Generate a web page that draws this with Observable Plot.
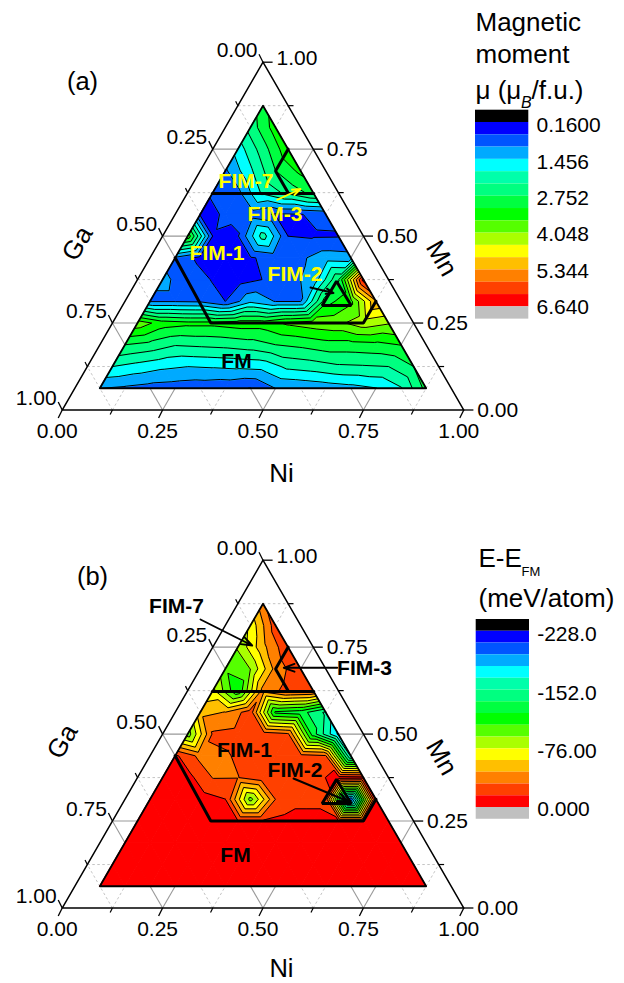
<!DOCTYPE html>
<html><head><meta charset="utf-8">
<style>html,body{margin:0;padding:0;background:#fff}svg{display:block}</style>
<script src="https://cdn.jsdelivr.net/npm/d3@7"></script>
<script src="https://cdn.jsdelivr.net/npm/@observablehq/plot@0.6"></script>
</head><body><div id="chart"></div>
<script>
// Values on the 1/16 composition grid: one list per Mn level (k/16), ordered by rising Ni.
const muMn01=[1.03,.95,.85,.8,.75,.7,.58,1.03,1.1,1.2,1.3,1.44,1.85,2.9];
const muMn02=[1.89,1.72,1.55,1.46,1.5,1.55,1.6,2.0,2.1,2.25,2.28,2.32,2.75];
const muMn03=[2.75,2.6,2.35,2.4,2.45,2.55,2.75,2.85,3.0,3.0,3.05,3.2];
const muMn04=[3.9,3.4,3.3,3.3,3.4,3.4,3.7,3.85,3.95,4.3,4.1];
const muMn05=[.99,.99,.96,.59,1.35,1.0,1.0,3.0,3.5,5.3];
const muMn06=[1.06,.95,.55,.4,.6,.9,1.15,2.7,6.4];
const muMn07=[.95,.45,.3,.55,.75,.95,1.25,1.2];
const muMn08=[3.5,.58,.56,2.1,.59,.55,.56];
const muMn09=[.5,.62,.8,.55,.58,.7];
const muMn10=[.62,.9,2.0,2.45,2.9];
const muMn11=[.95,1.8,2.75,3.3];
const muMn12=[1.65,2.55,3.5];
const muMn13=[2.5,3.4];
const muMn14=[3.0];
const muRows=[muMn01,muMn02,muMn03,muMn04,muMn05,muMn06,muMn07,muMn08,muMn09,muMn10,muMn11,muMn12,muMn13,muMn14];

const eMn01=[-2,-3,-4,-3,-2,-3,-4,-3,-2,-3,-4,-3,-2,-2];
const eMn02=[-3,-3,-3,-4,-3,-3,-3,-3,-4,-3,-3,-3,-2];
const eMn03=[-3,-4,-3,-4,-5,-5,-4,-4,-4,-4,-4,-3];
const eMn04=[-3,-3,-4,-6,-14.5,-14.5,-9,-9,-14,-14,-5];
const eMn05=[-3,-5,-8,-15,-97,-30,-20,-20,-210,-10];
const eMn06=[-8,-10,-31,-30.8,-20,-22,-22,-8,-10];
const eMn07=[-12,-35,-32,-25,-22,-25,-29,-170];
const eMn08=[-100,-28,-25,-22,-28,-130,-185];
const eMn09=[-50,-45,-22,-125,-130,-155];
const eMn10=[-72,-120,-40,-25,-28];
const eMn11=[-103,-91,-40,-18];
const eMn12=[-90,-50,-18];
const eMn13=[-72,-22];
const eMn14=[-35];
const eRows=[eMn01,eMn02,eMn03,eMn04,eMn05,eMn06,eMn07,eMn08,eMn09,eMn10,eMn11,eMn12,eMn13,eMn14];

const bandColors=["#000000","#0000ff","#0055ff","#00aaff","#00ffff","#00ffaa","#00ff80","#00ff40","#00ff00","#55ff00","#aaff00","#ffff00","#ffbf00","#ff8000","#ff4000","#ff0000","#c0c0c0"];
const muLevels=d3.range(16).map(i=>0.16+0.432*i);
const eLevels=d3.range(16).map(i=>-228+15.2*i);
const muTicks=["0.1600","1.456","2.752","4.048","5.344","6.640"];
const eTicks=["-228.0","-152.0","-76.00","0.000"];
const axisMajor=[0,.25,.5,.75,1];
const axisLabels=["0.00","0.25","0.50","0.75","1.00"];
const axisMinor=[.125,.375,.625,.875];
const phaseFM=[[1/16,7/16],[.245,.25],[.625,.25],[.625,.3125]];
const phaseTop=[[.0625,.6225],[.315,.6225]];
const phaseFim7=[[.1875,.75],[.1875,.6875],[.25,.625]];
const fim2Tri=[[.4979,.3703],[.5695,.3002],[.4973,.3002]];

const tern=([ni,mn])=>({x:ni+mn/2,y:mn});
const X0=61.7,X1=463.3,H=347.8;

function mesh(rows){
  const node=(k,i)=>({x:(1+i)/16+(k+1)/32,y:(k+1)/16,v:rows[k][i]});
  const t=[];
  rows.forEach((r,k)=>{r.forEach((_,i)=>{
    if(k+1<rows.length&&i<rows[k+1].length){
      t.push([node(k,i),node(k,i+1),node(k+1,i)]);
      if(i+1<rows[k+1].length) t.push([node(k,i+1),node(k+1,i),node(k+1,i+1)]);
    }
  })});
  return t;
}
function clip(poly,level,keepAbove){
  const out=[];const inside=p=>keepAbove?p.v>=level:p.v<level;
  poly.forEach((a,j)=>{
    const b=poly[(j+1)%poly.length];
    const ia=inside(a),ib=inside(b);
    if(ia)out.push(a);
    if(ia!==ib){const s=(level-a.v)/(b.v-a.v);out.push({x:a.x+s*(b.x-a.x),y:a.y+s*(b.y-a.y),v:level});}
  });
  return out;
}
function bands(tris,levels){
  const pts=[];let id=0;
  tris.forEach(t=>{
    bandColors.forEach((c,b)=>{
      let p=t;
      if(b>0)p=clip(p,levels[b-1],true);
      if(p.length&&b<levels.length)p=clip(p,levels[b],false);
      if(p.length>=3){id++;p.forEach(q=>pts.push({x:q.x,y:q.y,id,c}));}
    });
  });
  return pts;
}
function isolines(tris,levels){
  const segs=[];
  tris.forEach(t=>levels.forEach(l=>{
    const cut=[];
    t.forEach((a,j)=>{const b=t[(j+1)%3];
      if((a.v>=l)!==(b.v>=l)){const s=(l-a.v)/(b.v-a.v);cut.push({x:a.x+s*(b.x-a.x),y:a.y+s*(b.y-a.y)});}
    });
    if(cut.length===2)segs.push({x1:cut[0].x,y1:cut[0].y,x2:cut[1].x,y2:cut[1].y});
  }));
  return segs;
}

function panel(cfg){
  const {rows,levels,offset,svgH,texts,arrows,legend}=cfg;
  const base=409.5+cfg.shift-offset;
  const ix=p=>(p-X0)/(X1-X0);
  const iy=p=>(base-(p-offset))/H;
  const ux=1/(X1-X0),uy=1/H;
  const tris=mesh(rows);
  const marks=[];
  const fam=(v)=>[
    {x1:v/2+0,y1:v,x2:1-v/2,y2:v},
    {x1:v,y1:0,x2:v+(1-v)/2,y2:1-v},
    {x1:1-v,y1:0,x2:(1-v)/2,y2:1-v}
  ];
  marks.push(Plot.link(axisMinor.flatMap(fam),{x1:"x1",y1:"y1",x2:"x2",y2:"y2",stroke:"#b5b5b5",strokeWidth:.8,strokeDasharray:"2.5,2.5"}));
  marks.push(Plot.link([.25,.5,.75].flatMap(fam),{x1:"x1",y1:"y1",x2:"x2",y2:"y2",stroke:"#999",strokeWidth:1.1}));
  marks.push(Plot.line(bands(tris,levels),{x:"x",y:"y",z:"id",fill:"c",stroke:"c",strokeWidth:1,curve:"linear-closed"}));
  marks.push(Plot.link(isolines(tris,levels),{x1:"x1",y1:"y1",x2:"x2",y2:"y2",stroke:"#000",strokeWidth:1}));
  const edge=[[1/16,1/16],[14/16,1/16],[1/16,14/16]].map(tern);
  marks.push(Plot.line(edge,{x:"x",y:"y",curve:"linear-closed",stroke:"#000",strokeWidth:1.8}));
  const frame=[[0,0],[1,0],[0,1]].map(tern);
  marks.push(Plot.line(frame,{x:"x",y:"y",curve:"linear-closed",stroke:"#000",strokeWidth:1.5}));
  const tickSet=(vals,len)=>vals.flatMap(v=>[
    {x1:1-v/2,y1:v,x2:1-v/2+len*1.2*ux,y2:v},
    {x1:v,y1:0,x2:v-.5*len*ux,y2:-len*uy},
    {x1:(1-v)/2,y1:1-v,x2:(1-v)/2-.5*len*ux,y2:1-v+len*uy}
  ]);
  marks.push(Plot.link(tickSet(axisMajor,8),{x1:"x1",y1:"y1",x2:"x2",y2:"y2",stroke:"#000",strokeWidth:1.3}));
  marks.push(Plot.link(tickSet(axisMinor,4.5),{x1:"x1",y1:"y1",x2:"x2",y2:"y2",stroke:"#000",strokeWidth:1.2}));
  const label=(t,x,y,dx,dy,anchor)=>Plot.text([t],{x:()=>x,y:()=>y,text:d=>d,dx,dy,textAnchor:anchor,lineAnchor:"middle",fontSize:21,fontFamily:"Liberation Sans",fill:"#000"});
  axisMajor.forEach((v,i)=>{
    marks.push(label(axisLabels[i],1-v/2,v,13.5,v===1?-4:0,"start"));
    marks.push(label(axisLabels[i],v,0,-5,21.5,"middle"));
    marks.push(label(axisLabels[i],(1-v)/2,1-v,-5.5,-11.5,"end"));
  });
  const thick=(pts,sw=3)=>Plot.line(pts.map(tern),{x:"x",y:"y",stroke:"#000",strokeWidth:sw,strokeLinejoin:"miter"});
  marks.push(thick(phaseFM),thick(phaseTop),thick(phaseFim7));
  marks.push(Plot.line(fim2Tri.map(tern),{x:"x",y:"y",curve:"linear-closed",stroke:"#000",strokeWidth:3,strokeLinejoin:"miter"}));
  arrows.forEach(a=>marks.push(Plot.arrow([a],{x1:d=>ix(d[0]),y1:d=>iy(d[1]),x2:d=>ix(d[2]),y2:d=>iy(d[3]),stroke:d=>d[4],strokeWidth:1.9,headLength:9,headAngle:40,inset:0,bend:0})));
  texts.forEach(d=>marks.push(Plot.text([d],{x:()=>ix(d.px),y:()=>iy(d.py),text:()=>d.t,fontSize:d.size,fontWeight:d.weight||"normal",fontStyle:d.style||"normal",textAnchor:d.anchor||"middle",lineAnchor:"middle",rotate:d.rot||0,fill:d.fill||"#000",fontFamily:"Liberation Sans"})));
  const L=legend;
  const sw=bandColors.map((c,i)=>({c,y1:L.top+L.step*i,y2:L.top+L.step*(i+1)}));
  marks.push(Plot.rect(sw,{x1:()=>ix(L.x1),x2:()=>ix(L.x2),y1:d=>iy(d.y1),y2:d=>iy(d.y2),fill:"c"}));
  L.ticks.forEach((t,i)=>marks.push(Plot.text([t],{x:()=>ix(L.labelX),y:()=>iy(L.firstLabel+L.labelStep*i),text:d=>d,fontSize:21,textAnchor:"start",lineAnchor:"middle",fontFamily:"Liberation Sans",fill:"#000"})));
  return Plot.plot({width:624,height:svgH,margin:0,
    x:{domain:[0,1],range:[X0,X1],axis:null},
    y:{domain:[0,1],range:[base,base-H],axis:null},
    color:{type:"identity"},
    style:{background:"#fff",overflow:"visible"},
    marks});
}

const chart=document.getElementById("chart");
chart.append(panel({rows:muRows,levels:muLevels,offset:0,svgH:490,shift:0,
  arrows:[[310,287,333,292.5,"#000"],[276.7,199.3,300,188.5,"#ffff00"]],
  legend:{x1:475,x2:528.3,top:109.7,step:12.29,labelX:536,firstLabel:125,labelStep:36.4,ticks:muTicks},
  texts:[
    {t:"(a)",px:82,py:81,size:25.5},
    {t:"Ni",px:281,py:473,size:26},
    {t:"Ga",px:77,py:243,size:26,rot:-60},
    {t:"Mn",px:441,py:258,size:26,rot:60},
    {t:"FIM-7",px:245.5,py:181,size:21,weight:"bold",fill:"#ffff00"},
    {t:"FIM-3",px:274.5,py:214,size:21,weight:"bold",fill:"#ffff00"},
    {t:"FIM-1",px:216.5,py:253,size:21,weight:"bold",fill:"#ffff00"},
    {t:"FIM-2",px:294.5,py:274,size:21,weight:"bold",fill:"#ffff00"},
    {t:"FM",px:236,py:361,size:21,weight:"bold"},
    {t:"Magnetic",px:475,py:22,size:26,anchor:"start"},
    {t:"moment",px:475,py:54,size:26,anchor:"start"},
    {t:"\u03bc (\u03bc",px:475,py:90,size:26,anchor:"start"},
    {t:"B",px:520.5,py:102,size:16,style:"italic",anchor:"start"},
    {t:"/f.u.)",px:531,py:90,size:26,anchor:"start"}
  ]}));
chart.append(panel({rows:eRows,levels:eLevels,offset:490,svgH:493,shift:498,
  arrows:[[293,778,348,801,"#000"],[200,619,251.7,645,"#000"],[336.7,667.3,283.3,667.3,"#000"]],
  legend:{x1:475.7,x2:529,top:619,step:11.75,labelX:536.7,firstLabel:634,labelStep:58.3,ticks:eTicks},
  texts:[
    {t:"(b)",px:92,py:576,size:25.5},
    {t:"Ni",px:281,py:968.5,size:25.5},
    {t:"Ga",px:62,py:741,size:26,rot:-60},
    {t:"Mn",px:441,py:757,size:26,rot:60},
    {t:"FIM-7",px:176,py:606,size:21,weight:"bold"},
    {t:"FIM-3",px:364,py:668,size:21,weight:"bold"},
    {t:"FIM-1",px:244,py:750,size:21,weight:"bold"},
    {t:"FIM-2",px:294.5,py:770,size:21,weight:"bold"},
    {t:"FM",px:235,py:855,size:21,weight:"bold"},
    {t:"E-E",px:478,py:558,size:26,anchor:"start"},
    {t:"FM",px:521,py:571,size:13,anchor:"start"},
    {t:"(meV/atom)",px:478,py:598,size:26,anchor:"start"}
  ]}));
</script></body></html>
